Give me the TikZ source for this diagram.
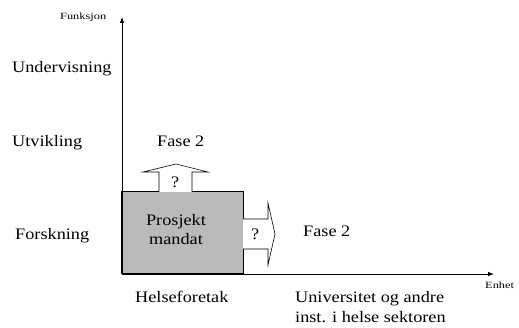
\documentclass[tikz,border=0pt]{standalone}
\usepackage{fontspec}
\setmainfont{Liberation Serif}[FakeStretch=1.14]
\newfontfamily\axisfont{Liberation Serif}[FakeStretch=1.3]
\usetikzlibrary{arrows.meta}
\begin{document}
\begin{tikzpicture}[x=1pt,y=-1pt,
  lbl/.style={anchor=base west,inner sep=0pt,font=\fontsize{16}{20}\selectfont},
  axlbl/.style={anchor=base west,inner sep=0pt,font=\axisfont\fontsize{9.5}{11}\selectfont},
  axis/.style={line width=0.8pt,-{Latex[length=6pt,width=4.5pt]}},
  blockarrow/.style={draw=black,line width=0.6pt,fill=white,line join=miter}]
  \useasboundingbox (0,0) rectangle (519,328);

  % axes
  \coordinate (O) at (122,274);
  \coordinate (ytop) at (122,17);
  \coordinate (xend) at (494,274);

  % project box
  \node (pm) [draw=black,line width=0.6pt,fill=black!27,minimum width=121pt,
    minimum height=82pt,inner sep=0pt,anchor=south west] at (O) {};
  \draw[line width=1.8pt] (pm.south west) -- (pm.north west);

  % upward block arrow
  \draw[blockarrow] (159,192) -- (159,172) -- (143,172) -- (176,164) -- (208,172)
    -- (192,172) -- (192,192);
  % rightward block arrow
  \draw[blockarrow] (243,219) -- (268,219) -- (268,203) -- (275,234) -- (268,265)
    -- (268,249) -- (243,249);

  \draw[axis] (O) -- (ytop);
  \draw[axis] (O) -- (xend);

  \node[font=\fontsize{16}{20}\selectfont,align=center,inner sep=0pt] (pmtext)
    at (176,230) {Prosjekt\\[-1pt]mandat};
  \node[lbl] (qup) at (171,188) {?};
  \node[lbl] (qright) at (251,240) {?};

  % axis titles
  \node[axlbl] (funk) at (60,20) {Funksjon};
  \node[axlbl] (enhet) at (485,289) {Enhet};

  % function levels
  \node[lbl] (underv) at (12,73) {Undervisning};
  \node[lbl] (utv) at (12,147) {Utvikling};
  \node[lbl] (forsk) at (15,240) {Forskning};

  % phase labels
  \node[lbl] (fase2a) at (157,147) {Fase 2};
  \node[lbl] (fase2b) at (303,237) {Fase 2};

  % units
  \node[lbl] (helse) at (135,303) {Helseforetak};
  \node[lbl] (univ1) at (295,303) {Universitet og andre};
  \node[lbl] (univ2) at (295,323) {inst. i helse sektoren};
\end{tikzpicture}
\end{document}
